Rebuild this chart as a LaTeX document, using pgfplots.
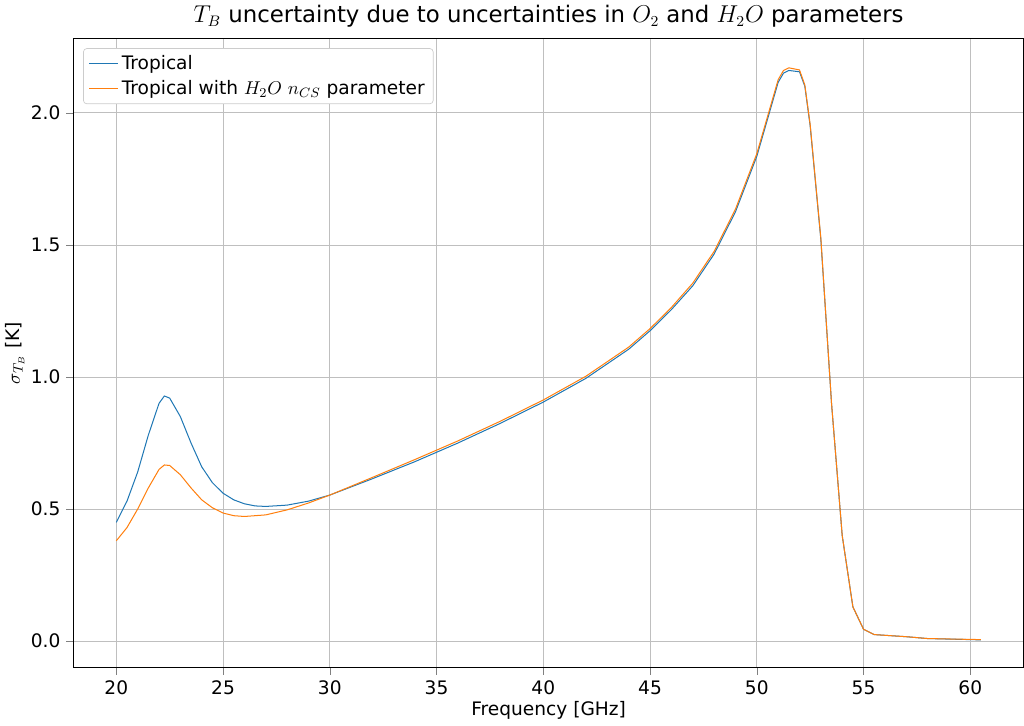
\documentclass[border=0pt]{standalone}
\usepackage{pgfplots}
\pgfplotsset{compat=1.18}
\usepackage{fontspec}
\setmainfont{DejaVu Sans}
\definecolor{mblue}{HTML}{1F77B4}
\definecolor{morange}{HTML}{FF7F0E}
\begin{document}
\begin{tikzpicture}
\begin{axis}[
  width=562pt, height=372pt, scale only axis,
  xmin=18, xmax=62.5, ymin=-0.1, ymax=2.28,
  xtick={20,25,...,60}, ytick={0,0.5,1,1.5,2},
  yticklabel style={/pgf/number format/.cd,fixed,fixed zerofill,precision=1},
  /pgf/number format/assume math mode=true,
  tick align=outside, tick pos=left,
  grid=major, grid style={gray!50},
  tick label style={font=\fontsize{11}{13}\selectfont},
  label style={font=\fontsize{11}{13}\selectfont},
  xlabel={Frequency [GHz]},
  ylabel={$\sigma_{T_B}$ [K]},
  xlabel style={yshift=3pt}, ylabel style={yshift=-3pt},
  title={$T_B$ uncertainty due to uncertainties in $O_2$ and $H_2O$ parameters},
  title style={font=\fontsize{13.5}{15}\selectfont, yshift=-3pt},
  legend pos=north west,
  legend style={font=\fontsize{11}{13}\selectfont, draw=gray!40, rounded corners=2pt, at={(0.01,0.985)}, row sep=1pt},
  legend cell align=left,
]
\addplot[mblue, semithick] coordinates {
(20,0.45)(20.5,0.53)(21,0.64)(21.5,0.78)(22,0.90)(22.25,0.928)(22.5,0.92)(23,0.85)(23.5,0.75)(24,0.66)(24.5,0.60)(25,0.56)(25.5,0.535)(26,0.52)(26.5,0.512)(27,0.51)(28,0.515)(29,0.53)(30,0.553)(32,0.615)(34,0.68)(36,0.75)(38,0.825)(40,0.905)(42,0.995)(44,1.105)(45,1.175)(46,1.255)(47,1.345)(48,1.465)(49,1.625)(50,1.835)(50.5,1.975)(51,2.115)(51.25,2.15)(51.5,2.16)(52,2.155)(52.25,2.10)(52.5,1.95)(53,1.52)(53.5,0.90)(54,0.40)(54.5,0.13)(55,0.045)(55.5,0.025)(57,0.017)(58,0.01)(60.5,0.005)};
\addlegendentry{Tropical}
\addplot[morange, semithick] coordinates {
(20,0.38)(20.5,0.43)(21,0.50)(21.5,0.58)(22,0.65)(22.25,0.667)(22.5,0.665)(23,0.63)(23.5,0.58)(24,0.535)(24.5,0.505)(25,0.485)(25.5,0.475)(26,0.472)(27,0.478)(28,0.497)(29,0.523)(30,0.553)(32,0.62)(34,0.688)(36,0.758)(38,0.833)(40,0.913)(42,1.003)(44,1.113)(45,1.183)(46,1.263)(47,1.355)(48,1.475)(49,1.635)(50,1.845)(50.5,1.985)(51,2.125)(51.25,2.16)(51.5,2.17)(52,2.162)(52.25,2.105)(52.5,1.955)(53,1.525)(53.5,0.90)(54,0.40)(54.5,0.13)(55,0.045)(55.5,0.025)(57,0.017)(58,0.01)(60.5,0.006)};
\addlegendentry{Tropical with $H_2O$ $n_{CS}$ parameter}
\end{axis}
\end{tikzpicture}
\end{document}
